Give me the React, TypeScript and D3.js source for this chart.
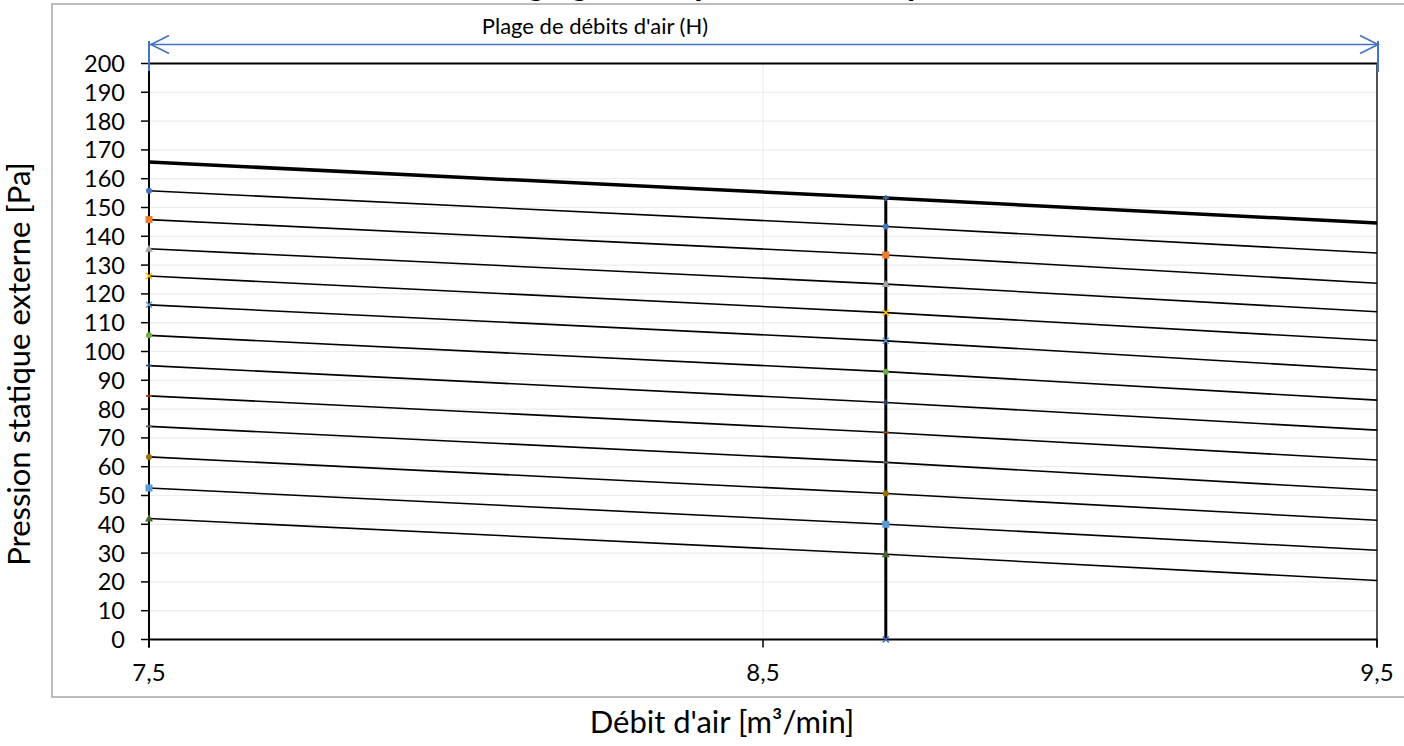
import React from "react";
import * as d3 from "d3";

const xPoints = [7.5, 8.7, 9.5];
const xTicks = [7.5, 8.5, 9.5];
const yTicks = d3.range(0, 201, 10);

const thinSeries = [
  [155.8, 143.4, 134.2],
  [145.8, 133.5, 123.7],
  [135.7, 123.4, 113.8],
  [126.2, 113.5, 103.8],
  [116.2, 103.7, 93.6],
  [105.6, 93.0, 83.1],
  [95.1, 82.3, 72.7],
  [84.6, 71.9, 62.3],
  [74.0, 61.5, 51.8],
  [63.4, 50.7, 41.4],
  [52.6, 40.0, 31.0],
  [42.0, 29.6, 20.5],
];
const thickSeries = [165.8, 153.3, 144.6];
const verticalX = 8.7;
const verticalRange = [0, 153.3];
const topLineValue = 200;

const markerColors = [
  "#4472C4", "#ED7D31", "#A5A5A5", "#FFC000", "#5B9BD5", "#70AD47",
  "#264478", "#9E480E", "#636363", "#997300", "#5B9BD5", "#43682B",
];
const markerShapes = [
  "circle", "square", "triangle", "x", "x", "circle",
  "plus", "dash", "dash", "circle", "square", "triangle",
];

const title = "Réglage de la pression statique externe";
const rangeLabel = "Plage de débits d'air (H)";
const yTitle = "Pression statique externe [Pa]";
const xTitle = "Débit d'air [m³/min]";

const FONT = "Lato, 'Open Sans', sans-serif";

function Marker({ shape, color, x, y }: { shape: string; color: string; x: number; y: number }) {
  const s = 3;
  switch (shape) {
    case "circle":
      return <circle cx={x} cy={y} r={s} fill={color} />;
    case "square":
      return <rect x={x - s - 0.5} y={y - s - 0.5} width={2 * s + 1} height={2 * s + 1} fill={color} />;
    case "triangle":
      return <path d={`M${x},${y - s - 1}L${x + s + 1},${y + s}L${x - s - 1},${y + s}Z`} fill={color} />;
    case "x":
      return (
        <path d={`M${x - s},${y - s}L${x + s},${y + s}M${x - s},${y + s}L${x + s},${y - s}`} stroke={color} strokeWidth={1.5} />
      );
    case "plus":
      return <path d={`M${x - s},${y}L${x + s},${y}M${x},${y - s}L${x},${y + s}`} stroke={color} strokeWidth={1.5} />;
    case "dash":
      return <path d={`M${x - s},${y}L${x + s},${y}`} stroke={color} strokeWidth={2} />;
    default:
      return null;
  }
}

export default function App() {
  const W = 1404;
  const H = 746;
  const x = d3.scaleLinear().domain([7.5, 9.5]).range([149, 1377]);
  const y = d3.scaleLinear().domain([0, 200]).range([639.5, 63.5]);
  const line = d3
    .line<number>()
    .x((_, i) => x(xPoints[i]))
    .y((d) => y(d));

  const arrowY = 44.5;
  const xl = x(7.5);
  const xr = x(9.5);

  return (
    <svg
      width={W}
      height={H}
      style={{ position: "fixed", left: 0, top: 0, background: "#fff" }}
      fontFamily={FONT}
    >
      <rect x={0} y={0} width={W} height={H} fill="#fff" />
      {/* title (mostly out of frame, as in the reference) */}
      <text x={488} y={-5} textAnchor="start" fontSize={34} fontWeight="bold" fill="#000">
        {title}
      </text>
      {/* outer border */}
      <rect x={52} y={4} width={W} height={693} fill="none" stroke="#a6a6a6" strokeWidth={1.5} />

      {/* gridlines */}
      {yTicks.filter((t) => t > 0 && t < 200).map((t) => (
        <line key={t} x1={xl} x2={xr} y1={y(t)} y2={y(t)} stroke="#ededed" strokeWidth={1.2} />
      ))}
      <line x1={x(8.5)} x2={x(8.5)} y1={y(0)} y2={y(200)} stroke="#ededed" strokeWidth={1.2} />

      {/* top line at 200 and right border */}
      <line x1={xl} x2={xr} y1={y(topLineValue)} y2={y(topLineValue)} stroke="#000" strokeWidth={2.2} />
      <line x1={xr} x2={xr} y1={y(200)} y2={y(0) + 8} stroke="#404040" strokeWidth={1.8} />

      {/* axes */}
      <line x1={xl} x2={xl} y1={y(200)} y2={y(0) + 8} stroke="#000" strokeWidth={2} />
      <line x1={xl} x2={xr} y1={y(0)} y2={y(0)} stroke="#000" strokeWidth={2} />
      {yTicks.map((t) => (
        <g key={t}>
          <line x1={xl - 8} x2={xl} y1={y(t)} y2={y(t)} stroke="#000" strokeWidth={1.5} />
          <text x={125} y={y(t)} dy="0.36em" textAnchor="end" fontSize={23.5} fill="#000">
            {t}
          </text>
        </g>
      ))}
      {xTicks.map((t) => (
        <g key={t}>
          <line x1={x(t)} x2={x(t)} y1={y(0)} y2={y(0) + 8} stroke="#000" strokeWidth={1.5} />
          <text x={x(t)} y={681} textAnchor="middle" fontSize={24} fill="#000">
            {String(t).replace(".", ",")}
          </text>
        </g>
      ))}

      {/* thin series */}
      {thinSeries.map((s, i) => (
        <path key={i} d={line(s) || ""} fill="none" stroke="#000" strokeWidth={1.6} />
      ))}
      {/* thick series */}
      <path d={line(thickSeries) || ""} fill="none" stroke="#000" strokeWidth={3.5} />
      {/* vertical line */}
      <line
        x1={x(verticalX)}
        x2={x(verticalX)}
        y1={y(verticalRange[0])}
        y2={y(verticalRange[1])}
        stroke="#000"
        strokeWidth={3}
      />

      {/* markers */}
      {thinSeries.map((s, i) =>
        [0, 1].map((j) => (
          <Marker key={`${i}-${j}`} shape={markerShapes[i]} color={markerColors[i]} x={x(xPoints[j])} y={y(s[j])} />
        ))
      )}
      <Marker shape="plus" color="#4472C4" x={x(verticalX)} y={y(thickSeries[1])} />
      <Marker shape="x" color="#4472C4" x={x(verticalX)} y={y(0)} />

      {/* range arrow */}
      <g stroke="#4472C4" fill="none" strokeWidth={1.6}>
        <line x1={xl} x2={xr} y1={arrowY} y2={arrowY} />
        <line x1={xl} x2={xl} y1={41} y2={71} strokeWidth={2} />
        <line x1={xr + 1} x2={xr + 1} y1={41} y2={72} strokeWidth={2} />
        <path d={`M${xl + 20},${arrowY - 9}L${xl + 2},${arrowY}L${xl + 20},${arrowY + 9}`} />
        <path d={`M${xr - 17},${arrowY - 9}L${xr + 1},${arrowY}L${xr - 17},${arrowY + 9}`} />
      </g>
      <text x={595} y={34} textAnchor="middle" fontSize={22} fill="#000">
        {rangeLabel}
      </text>

      {/* axis titles */}
      <text
        transform={`translate(30,364) rotate(-90)`}
        textAnchor="middle"
        fontSize={31}
        fill="#000"
      >
        {yTitle}
      </text>
      <text x={722} y={733} textAnchor="middle" fontSize={31} fill="#000">
        {xTitle}
      </text>
    </svg>
  );
}
